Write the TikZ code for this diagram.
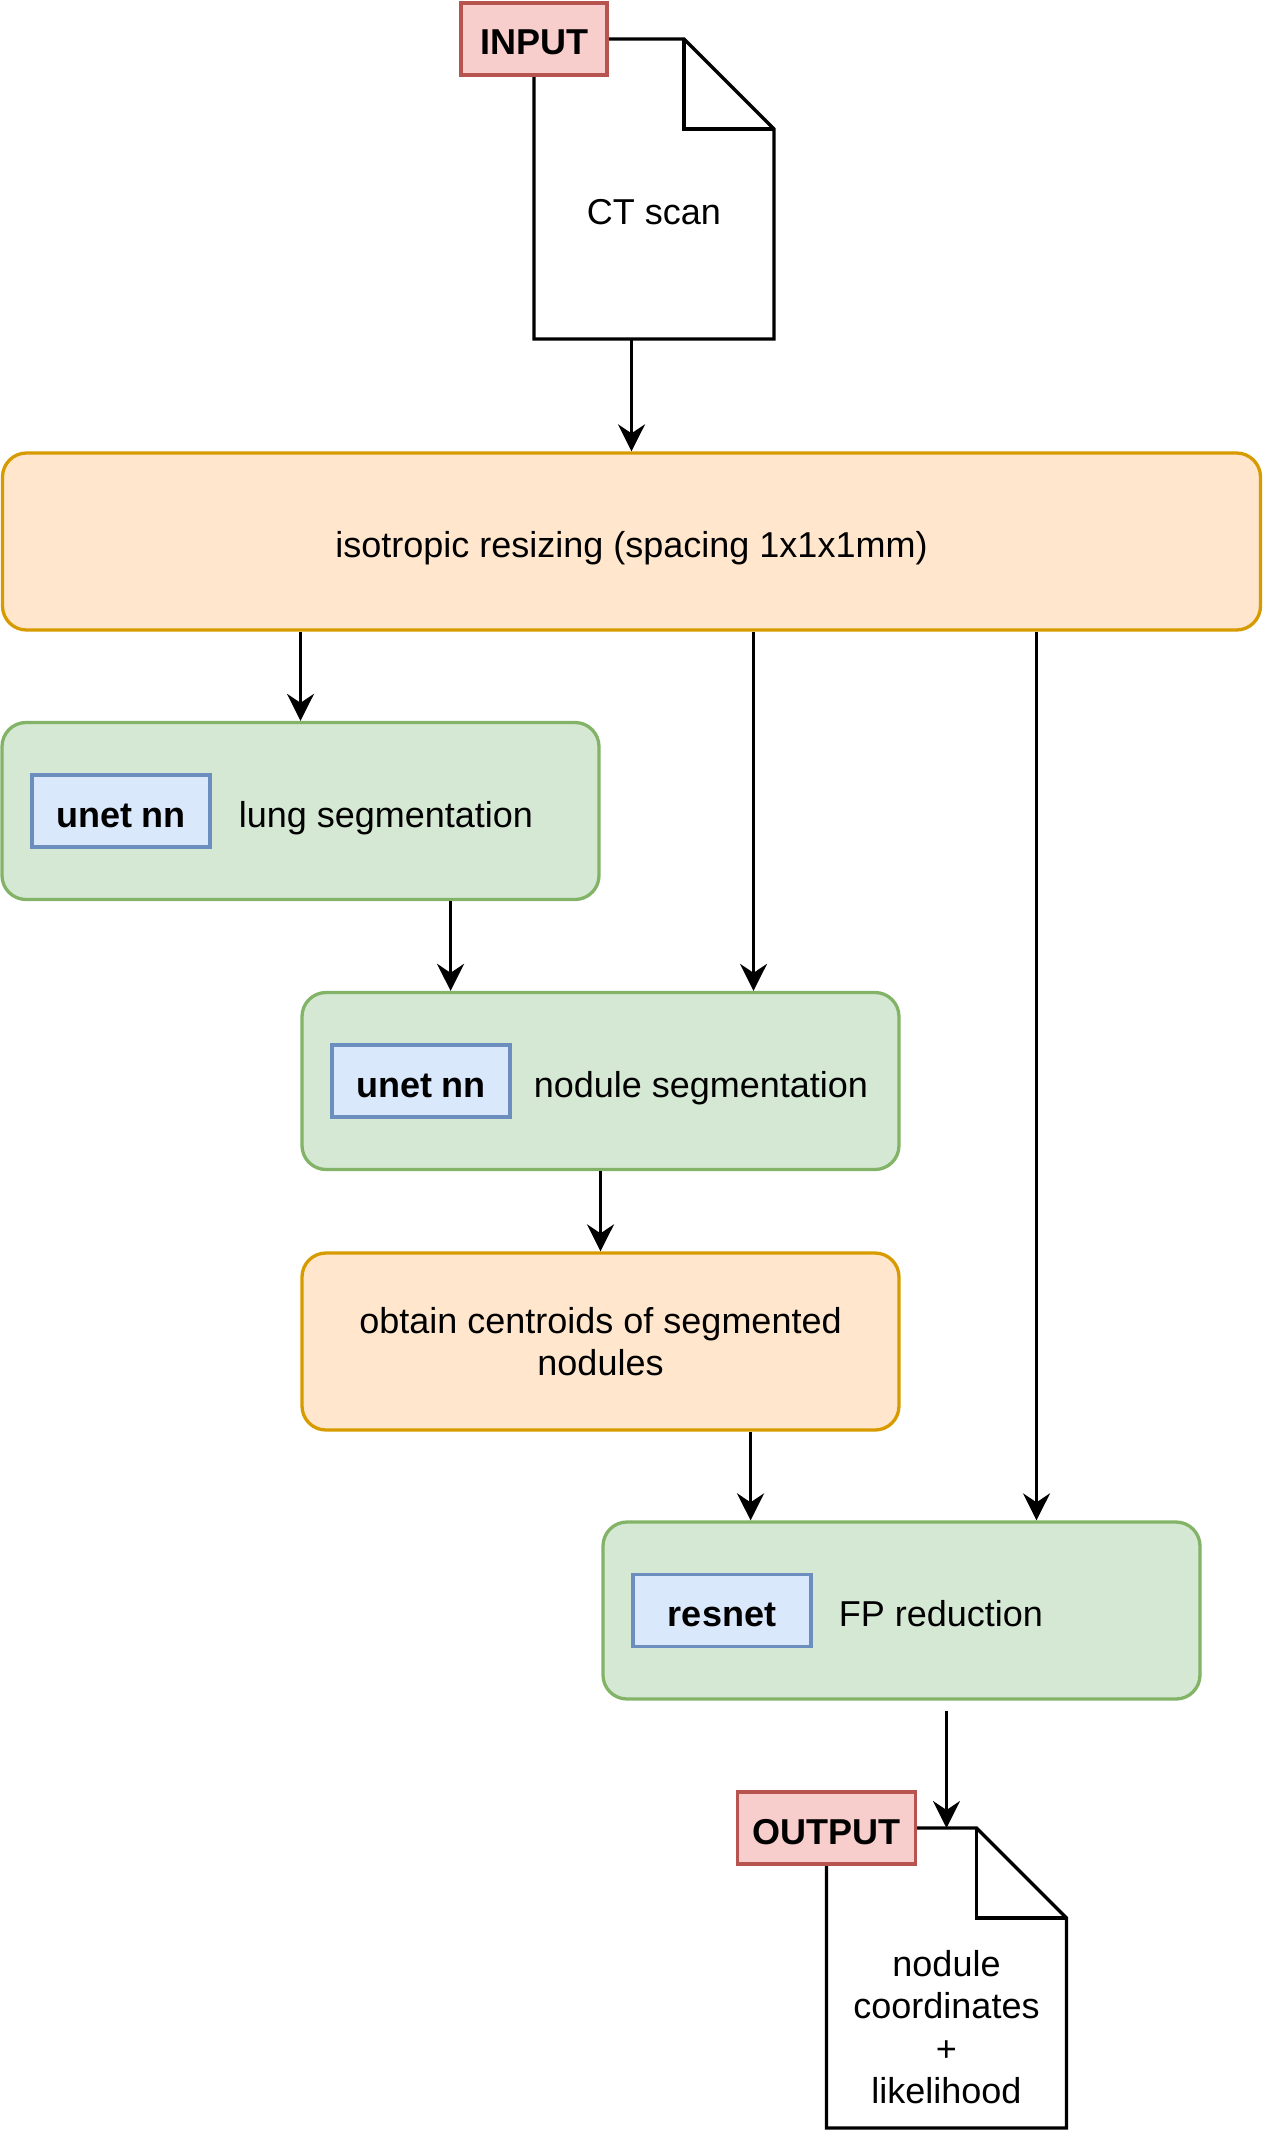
\documentclass[tikz,border=0pt]{standalone}
\usepackage{fontspec}
\setmainfont{Liberation Sans}
\usetikzlibrary{arrows.meta,positioning,calc}

\definecolor{tagfill}{HTML}{F8CECC}
\definecolor{tagline}{HTML}{B85450}
\definecolor{prepfill}{HTML}{FFE6CC}
\definecolor{prepline}{HTML}{D79B00}
\definecolor{netfill}{HTML}{D5E8D4}
\definecolor{netline}{HTML}{82B366}
\definecolor{modelfill}{HTML}{DAE8FC}
\definecolor{modelline}{HTML}{6C8EBF}

\newcommand{\diagfont}{\fontsize{36}{42.5}\selectfont}

\tikzset{
  oneline/.style={text height=34pt, text depth=2pt},
  stage/.style={rounded corners=24pt, line width=3.3pt, minimum height=177pt, inner sep=0pt},
  prepbox/.style={stage, draw=prepline, fill=prepfill},
  netbox/.style={stage, draw=netline, fill=netfill, minimum width=597pt},
  modelbox/.style={draw=modelline, fill=modelfill, line width=3.3pt, minimum width=178pt,
    minimum height=72pt, inner sep=0pt, font=\diagfont\bfseries, oneline},
  tagbox/.style={draw=tagline, fill=tagfill, line width=3.3pt, minimum height=72pt,
    inner sep=0pt, font=\diagfont\bfseries, oneline},
  docbox/.style={minimum width=240pt, minimum height=300pt, inner sep=0pt, outer sep=0pt},
  docline/.style={draw=black, line width=3.3pt, fill=white, line join=miter},
  lbl/.style={inner sep=0pt, oneline},
  arr/.style={line width=3.3pt, -{Stealth[length=27pt, width=27pt, inset=9pt]}}
}

\begin{document}
\begin{tikzpicture}[x=1pt, y=-1pt, font=\diagfont]
  \useasboundingbox (0,0) rectangle (1263,2130);
  % Dokumente (Ein- und Ausgabe)
  \node[docbox] (ctscan) at (654,189) {};
  \node[docbox] (result) at (946.5,1978) {};
  \foreach \d in {ctscan,result} {
    \draw[docline] (\d.north west) -- ([xshift=-90pt]\d.north east)
      -- ([yshift=-90pt]\d.north east) -- (\d.south east) -- (\d.south west) -- cycle;
    \draw[docline, fill=none] ([xshift=-90pt]\d.north east) |- ([yshift=-90pt]\d.north east);
  }
  \node[lbl] (ctlabel) at ([yshift=-19pt]ctscan.center) {CT scan};
  \node[inner sep=0pt, align=center] (resultlabel) at ([yshift=-49pt]result.center)
    {nodule\\coordinates\\+\\likelihood};
  \node[tagbox, minimum width=146pt] (input) at (ctscan.north west) {INPUT};
  \node[tagbox, minimum width=178pt] (output) at (result.north west) {OUTPUT};
  % Verarbeitungsschritte
  \node[prepbox, minimum width=1258pt, oneline] (iso) at (631.5,541.5)
    {isotropic resizing (spacing 1x1x1mm)};
  \node[netbox] (lung) at (300.5,811) {};
  \node[modelbox, right=30pt of lung.west] (lungnet) {unet nn};
  \node[lbl, right=27pt of lungnet] (lungtxt) {lung segmentation};
  \node[netbox] (nodule) at (600.5,1081) {};
  \node[modelbox, right=30pt of nodule.west] (nodulenet) {unet nn};
  \node[lbl, right=22pt of nodulenet] (noduletxt) {nodule segmentation};
  \node[prepbox, minimum width=597pt, align=center] (centroid) at (600.5,1341.5)
    {obtain centroids of segmented\\nodules};
  \node[netbox] (fp) at (901.5,1610.5) {};
  \node[modelbox, right=30pt of fp.west] (fpnet) {resnet};
  \node[lbl, right=26pt of fpnet] (fptxt) {FP reduction};
  % Verbindungen
  \draw[arr] (ctscan.south -| iso.north) -- (iso.north);
  \draw[arr] (iso.south -| lung.north) -- (lung.north);
  \coordinate (lungout) at ($(lung.south)!0.5!(lung.south east)$);
  \draw[arr] (lungout) -- (lungout |- nodule.north);
  \coordinate (noduletop) at ([xshift=153pt]nodule.north);
  \draw[arr] (iso.south -| noduletop) -- (noduletop);
  \draw[arr] (nodule.south) -- (centroid.north);
  \coordinate (centroidout) at ($(centroid.south)!0.5!(centroid.south east)$);
  \draw[arr] (centroidout) -- (centroidout |- fp.north);
  \coordinate (fptop) at ([xshift=135pt]fp.north);
  \draw[arr] (iso.south -| fptop) -- (fptop);
  \coordinate (fpout) at (fp.south -| result.north);
  \draw[arr] ([yshift=-10pt]fpout) -- (result.north);
\end{tikzpicture}
\end{document}
